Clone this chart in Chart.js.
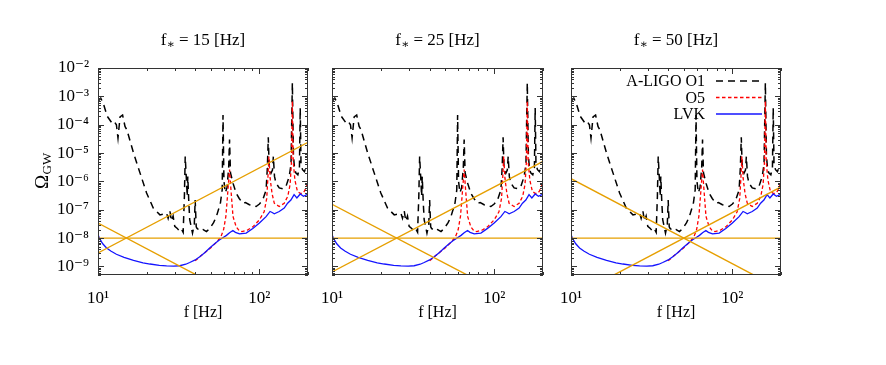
<!DOCTYPE html>
<html><head><meta charset="utf-8">
<script src="https://cdn.jsdelivr.net/npm/chart.js@4.4.0/dist/chart.umd.min.js"></script>
<style>
html,body{margin:0;padding:0;background:#fff;}
#wrap{position:relative;width:886px;height:365px;overflow:hidden;}
#wrap canvas{position:absolute;left:0;top:0;}
</style></head><body>
<div id="wrap">
<canvas id="c0" width="886" height="365"></canvas>
<canvas id="c1" width="886" height="365"></canvas>
<canvas id="c2" width="886" height="365"></canvas>
</div>
<script>
// ---------- data ----------
const fStars = [15, 25, 50];
const panelTitles = ['15 [Hz]', '25 [Hz]', '50 [Hz]'];
const seriesNames = ['A-LIGO O1', 'O5', 'LVK'];

const o1Freq = [10.0,10.4,10.8,11.4,12.2,12.6,13.0,13.3,13.7,14.2,14.7,15.1,16.6,18.2,20.0,22.0,24.2,25.5,26.6,27.2,27.9,28.5,29.2,29.9,31.0,32.1,33.0,33.7,34.3,34.7,35.3,35.7,36.0,36.5,37.0,38.5,39.5,40.0,40.6,41.1,43.0,44.8,47.0,49.2,52.0,54.1,57.3,58.8,59.5,60.3,61.5,63.0,64.5,65.3,66.2,68.6,71.8,75.0,78.9,82.0,86.7,91.0,95.4,100.0,104.8,110.0,112.0,113.5,115.0,118.0,120.5,122.0,124.0,126.7,132.7,140.0,146.0,153.0,157.0,160.0,162.5,165.0,168.0,173.0,177.0,179.0,181.0,185.0,190.0,195.0,200.0];
const o1Omega = [6.6e-4,8.7e-4,5.5e-4,2.0e-4,1.15e-4,1.3e-4,1.0e-4,3.4e-5,1.9e-4,2.2e-4,8.7e-5,6.6e-5,1.0e-5,2.0e-6,3.9e-7,1.15e-7,6.6e-8,7.0e-8,7.6e-8,5.0e-8,9.0e-8,4.0e-8,6.0e-8,2.6e-8,2.2e-8,1.7e-8,2.0e-8,1.6e-8,3.0e-7,7.6e-6,1.15e-6,3.0e-7,1.5e-6,2.0e-7,4.5e-8,1.5e-8,3.0e-8,2.2e-7,2.5e-8,2.2e-8,1.8e-8,2.0e-8,1.7e-8,2.2e-8,3.5e-8,5.7e-8,1.7e-7,5.0e-7,2.2e-4,1.0e-6,4.0e-7,6.0e-7,3.0e-6,3.0e-5,2.0e-6,8.7e-7,3.8e-7,2.5e-7,1.7e-7,1.8e-7,1.5e-7,1.4e-7,1.3e-7,1.6e-7,2.2e-7,5.0e-7,3.0e-6,3.6e-5,3.0e-6,1.95e-6,2.5e-6,7.6e-6,1.5e-6,8.7e-7,5.9e-7,5.5e-7,6.6e-7,1.5e-6,4.0e-6,3.0e-3,8.0e-6,3.0e-6,2.0e-6,1.7e-6,3.0e-6,3.9e-4,4.0e-6,2.6e-6,2.2e-6,3.3e-6,4.0e-6];

const o5Freq = [40.0,45.0,50.0,55.0,58.0,60.0,62.0,64.0,65.3,66.5,68.6,71.8,75.0,78.0,84.0,91.0,100.0,107.0,111.0,113.0,114.5,116.5,119.7,123.6,132.7,142.5,150.0,155.0,158.0,160.0,162.0,166.0,172.0,179.0,185.0,190.0,195.0,200.0];
const o5Omega = [1.6e-9,2.8e-9,4.6e-9,7.8e-9,1.2e-8,2.0e-8,6.0e-8,6.0e-7,2.6e-6,6.0e-7,5.8e-8,2.5e-8,1.8e-8,1.7e-8,1.9e-8,2.5e-8,4.4e-8,8.5e-8,2.5e-7,1.5e-6,7.6e-6,1.3e-6,3.8e-7,1.7e-7,1.3e-7,1.7e-7,3.0e-7,8.0e-7,5.0e-6,6.8e-4,5.0e-6,1.1e-6,4.4e-7,3.8e-7,3.8e-7,4.5e-7,6.5e-7,8.7e-7];

const lvkFreq = [10.0,10.3,10.7,11.3,12.0,13.0,14.5,16.6,19.0,21.0,24.0,26.6,29.5,32.1,35.0,37.0,40.0,42.7,46.0,49.2,53.0,56.7,60.0,62.5,65.3,68.5,71.0,75.3,82.8,91.0,100.0,110.0,116.4,120.0,123.6,132.7,142.5,149.5,156.7,164.0,170.7,179.0,187.5,196.7,200.0];
const lvkOmega = [1.3e-8,9.0e-9,6.3e-9,4.5e-9,3.5e-9,2.7e-9,2.1e-9,1.65e-9,1.35e-9,1.22e-9,1.1e-9,1.05e-9,1.03e-9,1.06e-9,1.2e-9,1.38e-9,1.7e-9,2.2e-9,3.1e-9,4.5e-9,6.5e-9,8.7e-9,1.07e-8,1.25e-8,1.55e-8,1.85e-8,1.6e-8,1.42e-8,1.5e-8,2.2e-8,3.4e-8,5.7e-8,8.7e-8,8.0e-8,7.2e-8,8.7e-8,1.15e-7,1.7e-7,2.2e-7,3.4e-7,2.6e-7,3.6e-7,3.0e-7,3.4e-7,3.6e-7];

// orange power-law lines: end points at f = 10 and f = 200
const lineFreq = [10, 200];
const flatOmega = [1e-8, 1e-8];
const risingOmega = [[3.0e-9, 2.4e-5], [6.4e-10, 5.1e-6], [8.0e-11, 6.4e-7]];
const fallingOmega = [[3.4e-8, 4.2e-12], [1.56e-7, 2.0e-11], [1.25e-6, 1.56e-10]];

// ticks
const xTickValues = [10, 100];
const xTickLabels = ['10¹', '10²'];
const yTickValues = [1e-9, 1e-8, 1e-7, 1e-6, 1e-5, 1e-4, 1e-3, 1e-2];
const yTickLabels = ['10⁻⁹', '10⁻⁸', '10⁻⁷', '10⁻⁶', '10⁻⁵', '10⁻⁴', '10⁻³', '10⁻²'];

// ---------- layout ----------
const plotLeft = [98, 332, 571];
const plotRight = [308, 543, 781];
const plotTop = 68, plotBottom = 275;
const W = 886, H = 365;
const serif = "'Liberation Serif', 'DejaVu Serif', serif";
const C_O1 = '#000000', C_O5 = '#ff0000', C_LVK = '#1414ff', C_OR = '#e69f00';

function pts(fs, vs) { return fs.map((f, k) => ({x: f, y: vs[k]})); }
function isPow10(v) { const l = Math.log10(v); return Math.abs(l - Math.round(l)) < 1e-6; }
function near(a, b) { return Math.abs(Math.log10(a) - Math.log10(b)) < 1e-6; }

const xAll = [];
for (const d of [10, 100]) for (let m = 1; m <= 9; m++) { const v = m * d; if (v >= 10 && v <= 200) xAll.push(v); }
const yAll = [];
for (let e = -10; e <= -2; e++) for (let m = 1; m <= 9; m++) { const v = m * Math.pow(10, e); if (v >= 5e-10 * 0.999 && v <= 1e-2 * 1.001) yAll.push(v); }

function decor(i) {
  return {
    id: 'decor' + i,
    afterDatasetsDraw(chart) {
      const {ctx, chartArea: a, scales: {x, y}} = chart;
      ctx.save();
      ctx.strokeStyle = '#333'; ctx.lineWidth = 1;
      ctx.beginPath();
      x.ticks.forEach(t => {
        const px = Math.round(x.getPixelForValue(t.value)) + 0.5;
        const L = isPow10(t.value) ? 6 : 3;
        ctx.moveTo(px, a.bottom); ctx.lineTo(px, a.bottom - L);
        ctx.moveTo(px, a.top); ctx.lineTo(px, a.top + L);
      });
      y.ticks.forEach(t => {
        const py = Math.round(y.getPixelForValue(t.value)) + 0.5;
        const L = isPow10(t.value) ? 6 : 3;
        ctx.moveTo(a.left, py); ctx.lineTo(a.left + L, py);
        ctx.moveTo(a.right, py); ctx.lineTo(a.right - L, py);
      });
      ctx.stroke();
      ctx.strokeRect(a.left + 0.5, a.top + 0.5, a.width - 1, a.height - 1);

      ctx.fillStyle = '#000';
      // panel title  f* = NN [Hz]
      const cx = (a.left + a.right) / 2;
      ctx.font = '17px ' + serif;
      const wf = ctx.measureText('f').width;
      const rest = ' = ' + panelTitles[i];
      const wr = ctx.measureText(rest).width;
      ctx.font = '12px ' + serif;
      const ws = ctx.measureText('∗').width;
      const x0 = cx - (wf + ws + wr) / 2;
      ctx.textBaseline = 'alphabetic'; ctx.textAlign = 'left';
      ctx.font = '17px ' + serif; ctx.fillText('f', x0, 45);
      ctx.font = '12px ' + serif; ctx.fillText('∗', x0 + wf, 48);
      ctx.font = '17px ' + serif; ctx.fillText(rest, x0 + wf + ws, 45);

      // x-axis title
      ctx.textAlign = 'center';
      ctx.font = '16px ' + serif;
      ctx.fillText('f [Hz]', cx, 317);

      if (i === 0) {
        ctx.save();
        ctx.translate(48, 189);
        ctx.rotate(-Math.PI / 2);
        ctx.textAlign = 'left';
        ctx.font = '19px ' + serif;
        ctx.fillText('Ω', 0, 0);
        const wo = ctx.measureText('Ω').width;
        ctx.font = '13px ' + serif;
        ctx.fillText('GW', wo + 0.5, 3);
        ctx.restore();
      }
      if (i === 2) {
        const rows = [
          {t: seriesNames[0], c: C_O1, d: [7, 5], w: 1.5, yy: 81},
          {t: seriesNames[1], c: C_O5, d: [3.5, 2.5], w: 1.3, yy: 97.5},
          {t: seriesNames[2], c: C_LVK, d: [], w: 1.3, yy: 114}
        ];
        ctx.font = '16px ' + serif; ctx.textAlign = 'right'; ctx.textBaseline = 'middle';
        rows.forEach(r => {
          ctx.fillStyle = '#000';
          ctx.fillText(r.t, 705, r.yy + 1);
          ctx.strokeStyle = r.c; ctx.lineWidth = r.w; ctx.setLineDash(r.d);
          ctx.beginPath(); ctx.moveTo(716, r.yy); ctx.lineTo(762, r.yy); ctx.stroke();
        });
        ctx.setLineDash([]);
      }
      ctx.restore();
    }
  };
}

function makeChart(i) {
  const ds = [
    {label: 'flat', data: pts(lineFreq, flatOmega), borderColor: C_OR, borderWidth: 1.4},
    {label: 'rising', data: pts(lineFreq, risingOmega[i]), borderColor: C_OR, borderWidth: 1.4},
    {label: 'falling', data: pts(lineFreq, fallingOmega[i]), borderColor: C_OR, borderWidth: 1.4},
    {label: seriesNames[2], data: pts(lvkFreq, lvkOmega), borderColor: C_LVK, borderWidth: 1.3},
    {label: seriesNames[1], data: pts(o5Freq, o5Omega), borderColor: C_O5, borderWidth: 1.3, borderDash: [3.5, 2.5]},
    {label: seriesNames[0], data: pts(o1Freq, o1Omega), borderColor: C_O1, borderWidth: 1.5, borderDash: [7, 5]}
  ];
  ds.forEach(d => { d.pointRadius = 0; d.tension = 0; d.fill = false; });
  return new Chart(document.getElementById('c' + i), {
    type: 'line',
    data: {datasets: ds},
    options: {
      responsive: false, animation: false, devicePixelRatio: 1,
      layout: {padding: {top: plotTop, right: W - plotRight[i], left: 0, bottom: 0}},
      plugins: {legend: {display: false}, title: {display: false}, tooltip: {enabled: false}},
      scales: {
        x: {
          type: 'logarithmic', min: 10, max: 200,
          afterBuildTicks: s => { s.ticks = xAll.map(v => ({value: v})); },
          afterFit: s => { s.height = H - plotBottom; },
          grid: {display: false, drawTicks: false}, border: {display: false},
          ticks: {autoSkip: false, maxRotation: 0, minRotation: 0, padding: 13, color: '#000',
            font: {family: serif, size: 17},
            callback: v => { const k = xTickValues.findIndex(t => near(t, v)); return k >= 0 ? xTickLabels[k] : ''; }}
        },
        y: {
          type: 'logarithmic', min: 5e-10, max: 1e-2,
          afterBuildTicks: s => { s.ticks = yAll.map(v => ({value: v})); },
          afterFit: s => { s.width = plotLeft[i]; },
          grid: {display: false, drawTicks: false}, border: {display: false},
          ticks: {display: i === 0, autoSkip: false, padding: 9, color: '#000',
            font: {family: serif, size: 17},
            callback: v => { const k = yTickValues.findIndex(t => near(t, v)); return k >= 0 ? yTickLabels[k] : ''; }}
        }
      }
    },
    plugins: [decor(i)]
  });
}
[0, 1, 2].forEach(makeChart);
</script>
</body></html>
